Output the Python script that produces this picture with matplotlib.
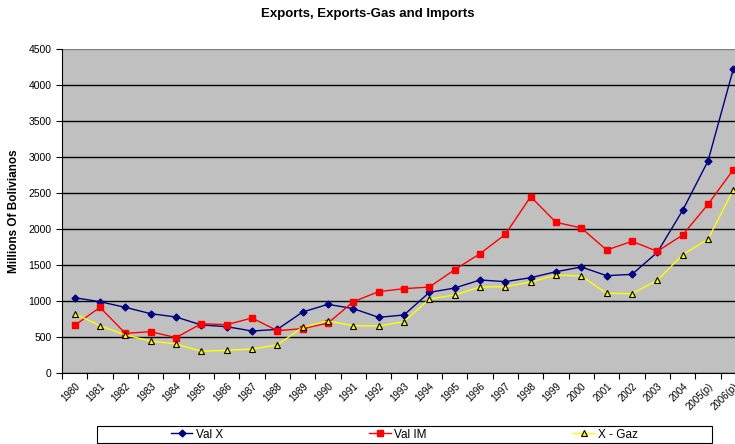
import numpy as np
import matplotlib.pyplot as plt
from matplotlib.patches import Rectangle

plt.rcParams["font.family"] = ["Liberation Sans", "DejaVu Sans"]

# -----------------------------
# Data
# -----------------------------
years = ["1980", "1981", "1982", "1983", "1984", "1985", "1986", "1987", "1988",
         "1989", "1990", "1991", "1992", "1993", "1994", "1995", "1996", "1997",
         "1998", "1999", "2000", "2001", "2002", "2003", "2004", "2005(p)", "2006(p)"]

val_x = [1046, 990, 912, 824, 778, 667, 644, 583, 606, 847, 954, 894, 773, 806,
         1120, 1180, 1292, 1269, 1324, 1407, 1472, 1352, 1370, 1676, 2259, 2944, 4222]

val_im = [662, 912, 551, 574, 491, 685, 671, 764, 588, 616, 694, 990, 1130, 1171,
          1194, 1435, 1657, 1926, 2449, 2093, 2014, 1708, 1829, 1690, 1917, 2343, 2824]

x_gaz = [824, 657, 528, 444, 403, 301, 315, 333, 389, 634, 722, 657, 653, 713,
         1028, 1083, 1194, 1199, 1264, 1361, 1347, 1106, 1102, 1287, 1644, 1857, 2546]

# -----------------------------
# Figure
# -----------------------------
fig = plt.figure(figsize=(7.35, 4.44), dpi=100)
ax = fig.add_axes([62 / 735, 71 / 444, 684 / 735, 324 / 444])
ax.set_facecolor("#C0C0C0")

x = np.arange(len(years))

ax.plot(x, val_x, color="#000080", lw=1.0, marker="D", ms=3.5,
        mfc="#000080", mec="#000080", label="Val X", zorder=3)
ax.plot(x, val_im, color="#FF0000", lw=1.0, marker="s", ms=4.8,
        mfc="#FF0000", mec="#FF0000", label="Val IM", zorder=3)
ax.plot(x, x_gaz, color="#FFFF00", lw=1.0, marker="^", ms=4.8,
        mfc="#FFFF00", mec="black", mew=0.8, label="X - Gaz", zorder=3)

ax.set_xlim(-0.5, len(years) - 0.5)
ax.set_ylim(0, 4500)
ax.set_yticks(np.arange(0, 4501, 500))
ax.yaxis.grid(True, color="black", lw=1.0)
ax.get_ygridlines()[-1].set_color("#808080")
ax.set_axisbelow(True)

# category labels at centres, ticks at boundaries
ax.set_xticks(x)
ax.set_xticklabels(years, rotation=45, ha="right", rotation_mode="anchor", fontsize=7)
ax.tick_params(axis="x", which="major", length=0, pad=6)
ax.set_xticks(np.arange(-0.5, len(years), 1), minor=True)
ax.tick_params(axis="x", which="minor", length=4, width=0.8, direction="out")
ax.tick_params(axis="y", labelsize=7.5, length=4, width=0.8, direction="out")

for side in ["top", "right"]:
    ax.spines[side].set_visible(False)
ax.spines["left"].set_color("black")
ax.spines["bottom"].set_color("black")

ax.set_ylabel("Millions Of Bolivianos", fontsize=8.5, fontweight="bold", labelpad=6)
fig.text(0.5, 1 - 14 / 444, "Exports, Exports-Gas and Imports",
         ha="center", va="center", fontsize=9.5, fontweight="bold")

# legend box spans wider than its entries, as in the reference
fig.patches.append(Rectangle((97 / 735, 1 / 444), 615 / 735, 17 / 444,
                             transform=fig.transFigure, facecolor="white",
                             edgecolor="black", lw=0.8, zorder=1))
leg = fig.legend(loc="center left", ncol=3, fontsize=8.5,
                 bbox_to_anchor=(171 / 735, 9.5 / 444),
                 frameon=False, borderpad=0, borderaxespad=0,
                 handlelength=1.8, handletextpad=0.3, columnspacing=12.4)
leg.set_zorder(2)

fig.savefig("out.png", dpi=100)
